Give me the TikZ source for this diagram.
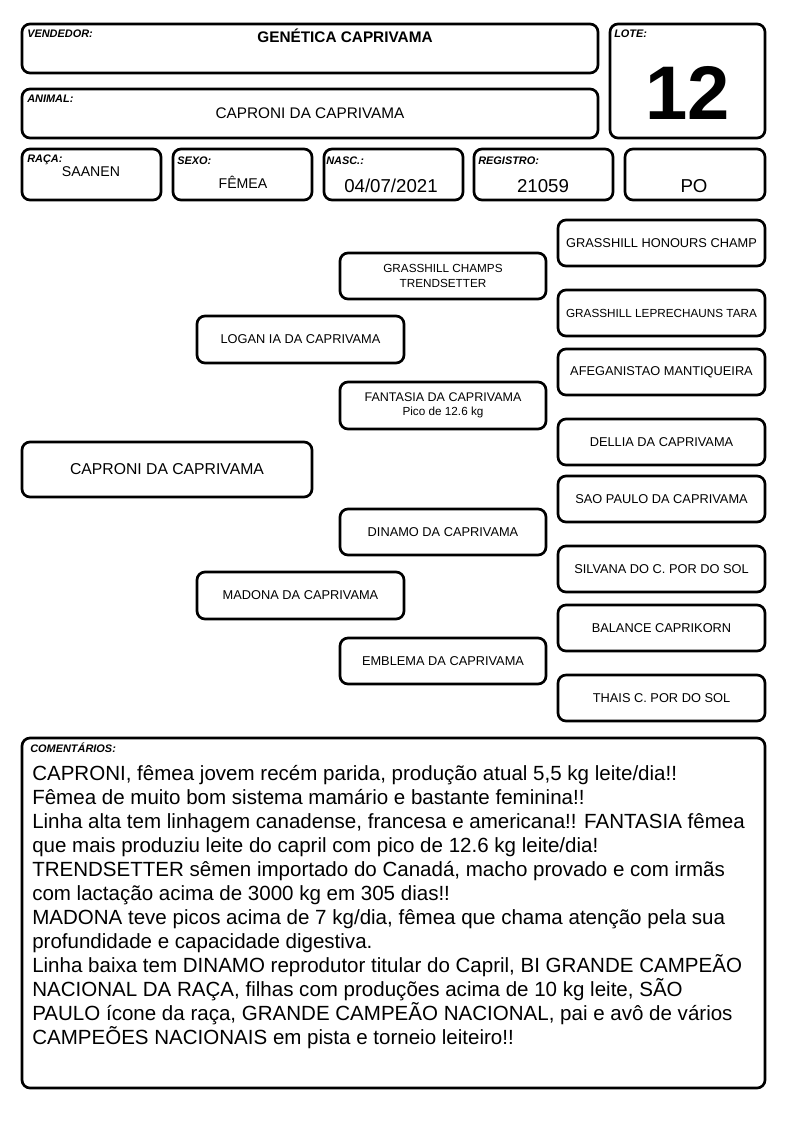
\documentclass[tikz,border=0pt]{standalone}
\usepackage{fontspec}
\setmainfont{Liberation Sans}
\usetikzlibrary{positioning}
\tikzstyle{field} = [draw=black, line width=2pt, rounded corners=6pt, inner sep=0pt, align=center]
\tikzstyle{tag} = [inner sep=0pt, anchor=base west, font=\fontsize{8.2}{9}\selectfont\bfseries\itshape]
\tikzstyle{value} = [inner sep=0pt, anchor=base, font=\fontsize{11.5}{13}\selectfont]
\tikzstyle{ped} = [field, minimum width=155pt, minimum height=35pt, font=\fontsize{9.6}{11}\selectfont]
\tikzstyle{anc} = [ped, minimum width=155pt]
\tikzset{wh/.style 2 args={minimum width=#1*0.75pt, minimum height=#2*0.75pt}}

\begin{document}
\begin{tikzpicture}[x=0.75pt, y=-0.75pt]
\useasboundingbox (0,0) rectangle (794,1123);
% header
\node (vend) [field, wh={576}{49}] at (310,48.5) {};
\node (lote) [field, wh={155}{114}] at (687.5,81) {};
\node (animal) [field, wh={576}{49}] at (310,113.5) {};
\node (raca) [field, wh={139}{51}] at (91.5,174.5) {};
\node (sexo) [field, wh={139}{51}] at (242.5,174.5) {};
\node (nasc) [field, wh={139}{51}] at (393.5,174.5) {};
\node (reg) [field, wh={139}{51}] at (543.5,174.5) {};
\node (po) [field, wh={140}{51}] at (695,174.5) {};
\node (vendtag) [tag] at (27,38) {VENDEDOR:};
\node (lotetag) [tag] at (614,38) {LOTE:};
\node (animaltag) [tag] at (27,103) {ANIMAL:};
\node (racatag) [tag] at (27,163) {RAÇA:};
\node (sexotag) [tag] at (177,165) {SEXO:};
\node (nasctag) [tag] at (326,165) {NASC.:};
\node (regtag) [tag] at (478,165) {REGISTRO:};
\node (vendval) [value, font=\fontsize{11.5}{13}\selectfont\bfseries] at (345,43) {GENÉTICA CAPRIVAMA};
\node (loteval) [value, font=\fontsize{57}{60}\selectfont\bfseries] at (688,120) {12};
\node (animalval) [value] at (310,119) {CAPRONI DA CAPRIVAMA};
\node (racaval) [value, font=\fontsize{10.6}{12}\selectfont] at (91,177) {SAANEN};
\node (sexoval) [value, font=\fontsize{10.6}{12}\selectfont] at (243,189) {FÊMEA};
\node (nascval) [value, font=\fontsize{14}{16}\selectfont] at (391,193) {04/07/2021};
\node (regval) [value, font=\fontsize{14}{16}\selectfont] at (543,193) {21059};
\node (poval) [value, font=\fontsize{14}{16}\selectfont] at (694,193) {PO};
% pedigree
\node (caproni) [ped, wh={290}{55}, font=\fontsize{11.8}{13}\selectfont] at (167,469.5) {CAPRONI DA CAPRIVAMA};
\node (logan) [ped, wh={207}{47}] at (300.5,339.5) {LOGAN IA DA CAPRIVAMA};
\node (madona) [ped, wh={207}{47}] at (300.5,595.5) {MADONA DA CAPRIVAMA};
\node (trend) [ped, wh={206}{46}, font=\fontsize{8.8}{11}\selectfont] at (443,276) {GRASSHILL CHAMPS\\TRENDSETTER};
\node (fantasia) [ped, wh={206}{47}, font=\fontsize{9.4}{11}\selectfont] at (443,405.5) {FANTASIA DA CAPRIVAMA\\{\fontsize{8.8}{11}\selectfont Pico de 12.6 kg}};
\node (dinamo) [ped, wh={206}{46}] at (443,532) {DINAMO DA CAPRIVAMA};
\node (emblema) [ped, wh={206}{46}] at (443,661) {EMBLEMA DA CAPRIVAMA};
\node (honours) [anc, wh={207}{46}] at (661.5,243) {GRASSHILL HONOURS CHAMP};
\node (tara) [anc, wh={207}{46}, font=\fontsize{8.8}{11}\selectfont] at (661.5,313) {GRASSHILL LEPRECHAUNS TARA};
\node (afeg) [anc, wh={207}{46}] at (661.5,372) {AFEGANISTAO MANTIQUEIRA};
\node (dellia) [anc, wh={207}{46}] at (661.5,442) {DELLIA DA CAPRIVAMA};
\node (saopaulo) [anc, wh={207}{46}] at (661.5,499) {SAO PAULO DA CAPRIVAMA};
\node (silvana) [anc, wh={207}{46}] at (661.5,569) {SILVANA DO C. POR DO SOL};
\node (balance) [anc, wh={207}{46}] at (661.5,628) {BALANCE CAPRIKORN};
\node (thais) [anc, wh={207}{46}] at (661.5,698) {THAIS C. POR DO SOL};
% comments
\node (com) [field, wh={743}{350}] at (393.5,913) {};
\node (comtag) [tag] at (30,752) {COMENTÁRIOS:};
\node (comtext) [inner sep=0pt, anchor=north west, align=left, font=\fontsize{15.4}{18}\selectfont] at (32,765) {CAPRONI, fêmea jovem recém parida, produção atual 5,5 kg leite/dia!!\\
Fêmea de muito bom sistema mamário e bastante feminina!!\\
Linha alta tem linhagem canadense, francesa e americana!! FANTASIA fêmea\\
que mais produziu leite do capril com pico de 12.6 kg leite/dia!\\
TRENDSETTER sêmen importado do Canadá, macho provado e com irmãs\\
com lactação acima de 3000 kg em 305 dias!!\\
MADONA teve picos acima de 7 kg/dia, fêmea que chama atenção pela sua\\
profundidade e capacidade digestiva.\\
Linha baixa tem DINAMO reprodutor titular do Capril, BI GRANDE CAMPEÃO\\
NACIONAL DA RAÇA, filhas com produções acima de 10 kg leite, SÃO\\
PAULO ícone da raça, GRANDE CAMPEÃO NACIONAL, pai e avô de vários\\
CAMPEÕES NACIONAIS em pista e torneio leiteiro!!};
\end{tikzpicture}
\end{document}
